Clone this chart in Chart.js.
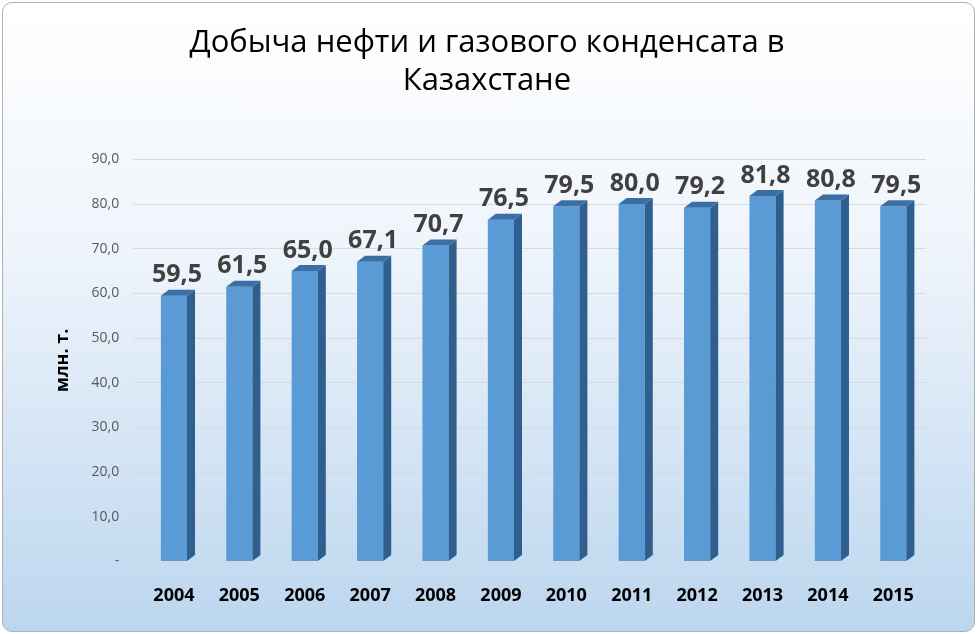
<!DOCTYPE html>
<html><head><meta charset="utf-8">
<script src="https://cdn.jsdelivr.net/npm/chart.js@4"></script>
<style>
html,body{margin:0;padding:0;background:#fff}
#wrap{position:absolute;left:2px;top:2px;width:971px;height:628px;border:1px solid #b0b0b0;border-radius:10px;overflow:hidden;background:linear-gradient(#ffffff 0%,#eef4fb 40%,#bcd6ef 100%)}
</style></head><body>
<div id="wrap"><canvas id="c" width="971" height="628"></canvas></div>
<script>
const years=['2004','2005','2006','2007','2008','2009','2010','2011','2012','2013','2014','2015'];
const production=[59.5,61.5,65.0,67.1,70.7,76.5,79.5,80.0,79.2,81.8,80.8,79.5];
const yTicks=[0,10,20,30,40,50,60,70,80,90];
const fmt=v=>v===0?'-':v.toFixed(1).replace('.',',');
const bar3d={id:'bar3d',afterDatasetsDraw(ch){
  const ctx=ch.ctx;const d=8;
  ch.getDatasetMeta(0).data.forEach((b,i)=>{
    const l=b.x-b.width/2,r=b.x+b.width/2,t=b.y,bt=b.base;
    ctx.fillStyle='#2f5f8f';
    ctx.beginPath();ctx.moveTo(r,t);ctx.lineTo(r+d,t-d*0.75);ctx.lineTo(r+d,bt-d*0.75);ctx.lineTo(r,bt);ctx.fill();
    ctx.fillStyle='#3a6fa6';
    ctx.beginPath();ctx.moveTo(l,t);ctx.lineTo(l+d,t-d*0.75);ctx.lineTo(r+d,t-d*0.75);ctx.lineTo(r,t);ctx.fill();
    ctx.fillStyle='#404040';ctx.font='bold 25px "Open Sans"';ctx.textAlign='center';ctx.textBaseline='bottom';
    ctx.fillText(fmt(production[i]),b.x+3,t-8);
  });
}};
new Chart(document.getElementById('c'),{type:'bar',
data:{labels:years,datasets:[{data:production,backgroundColor:'#5b9bd5',barPercentage:0.4,categoryPercentage:1}]},
options:{responsive:false,animation:false,
layout:{padding:{left:45,right:48,top:0,bottom:8}},
plugins:{legend:{display:false},tooltip:{enabled:false},
title:{display:true,text:['Добыча нефти и газового конденсата в','Казахстане'],font:{family:'"Open Sans"',size:31,weight:'normal'},color:'#000',padding:{top:22,bottom:60},lineHeight:1.4}},
scales:{
x:{grid:{display:false},border:{display:false},ticks:{color:'#000',font:{family:'"Open Sans"',size:18,weight:'bold'},padding:16}},
y:{min:0,max:90,afterBuildTicks:a=>{a.ticks=yTicks.map(v=>({value:v}))},
grid:{color:'#d9d9d9'},border:{display:false},
ticks:{color:'#595959',font:{family:'"Open Sans"',size:14},padding:14,callback:v=>fmt(v)},
title:{display:true,text:'млн. т.',color:'#000',font:{family:'"Open Sans"',size:18,weight:'bold'}}}}},
plugins:[bar3d]});
</script></body></html>
